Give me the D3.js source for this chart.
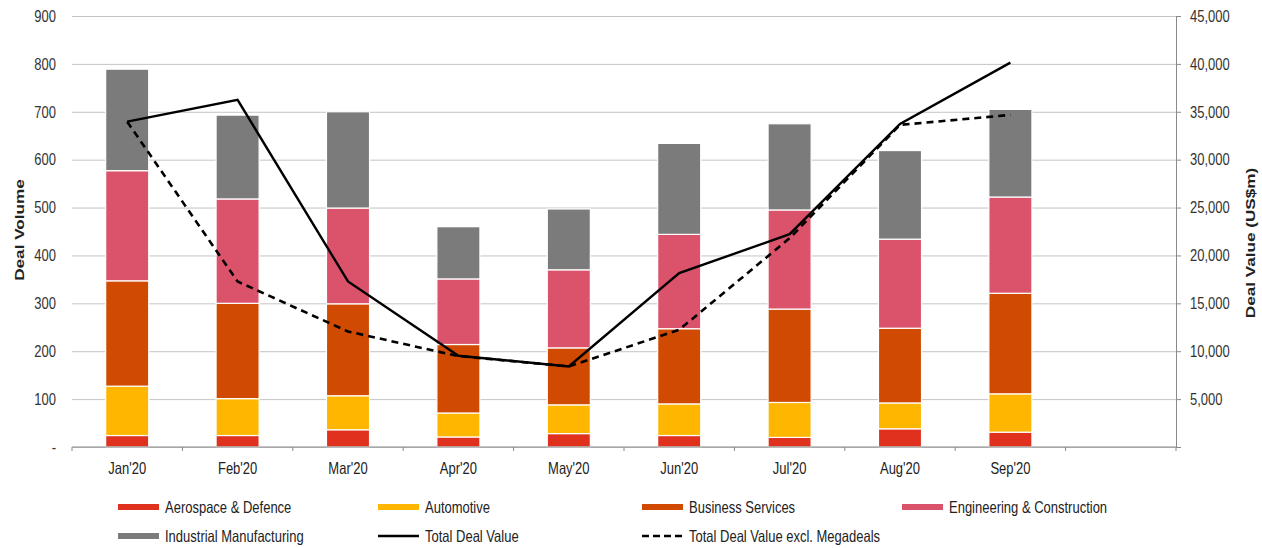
<!DOCTYPE html>
<html>
<head>
<meta charset="utf-8">
<script src="https://cdn.jsdelivr.net/npm/d3@7"></script>
<style>
    body { margin: 0; background: #fff; }
    svg { display: block; font-family: "Liberation Sans", Arial, sans-serif; }
    .gridline line { stroke: #c4c4c4; }
    .gridline path { display: none; }
</style>
</head>
<body>
<div id="chart"></div>
<script>
// values
const months = ["Jan'20", "Feb'20", "Mar'20", "Apr'20", "May'20", "Jun'20", "Jul'20", "Aug'20", "Sep'20"];
const aerospace = [24, 24, 36, 21, 28, 24, 20, 38, 31];
const automotive = [103, 77, 71, 50, 60, 66, 73, 54, 80];
const businessServices = [220, 199, 192, 143, 119, 157, 195, 156, 210];
const engineering = [230, 218, 200, 137, 163, 197, 207, 186, 201];
const industrial = [212, 175, 201, 109, 127, 190, 180, 185, 183];
const totalDealValue = [33970, 36240, 17280, 9530, 8410, 18150, 22220, 33730, 40130];
const exclMegadeals = [33970, 17280, 12060, 9490, 8410, 12240, 21800, 33630, 34670];
const volumeTicks = [0, 100, 200, 300, 400, 500, 600, 700, 800, 900];
const valueTicks = [0, 5000, 10000, 15000, 20000, 25000, 30000, 35000, 40000, 45000];

const seriesNames = ['Aerospace & Defence', 'Automotive', 'Business Services', 'Engineering & Construction', 'Industrial Manufacturing'];
const seriesColors = ['#e0301e', '#ffb600', '#d04a02', '#db536a', '#7b7b7b'];
const seriesValues = [aerospace, automotive, businessServices, engineering, industrial];

const width = 1262;
const height = 548;
const stretch = 'scale(1,1.27)';

const svg = d3.select('#chart')
    .append('svg')
    .attr('width', width)
    .attr('height', height);

const plotLeft = 72, plotRight = 1176, plotTop = 16, plotBottom = 447;

// 10 slots, the last one stays empty
const slots = d3.range(months.length + 1);
const xScale = d3.scaleBand()
    .domain(slots)
    .range([plotLeft, plotRight])
    .paddingInner(0.61)
    .paddingOuter(0.305);
const yScale = d3.scaleLinear()
    .domain([0, 900])
    .range([plotBottom, plotTop]);
const y2Scale = d3.scaleLinear()
    .domain([0, 45000])
    .range([plotBottom, plotTop]);

// gridlines
svg.append('g')
    .classed('gridline', true)
    .attr('transform', `translate(${plotLeft},0)`)
    .call(d3.axisLeft(yScale).tickValues(volumeTicks).tickSize(-(plotRight - plotLeft)).tickFormat(''));

// left axis labels
const yAxis = svg.append('g')
    .attr('transform', `translate(${plotLeft},0)`)
    .call(d3.axisLeft(yScale)
        .tickValues(volumeTicks)
        .tickSize(0)
        .tickPadding(16)
        .tickFormat(d => d === 0 ? '-' : d));
yAxis.select('.domain').remove();
yAxis.selectAll('text')
    .style('font-size', '13px')
    .attr('fill', '#333')
    .attr('transform', stretch);

// stacked bars
const stackData = months.map((m, i) => {
    const row = { i };
    seriesNames.forEach((s, k) => { row[s] = seriesValues[k][i]; });
    return row;
});
const stacked = d3.stack().keys(seriesNames)(stackData);

svg.selectAll('.series')
    .data(stacked)
    .enter()
    .append('g')
    .classed('series', true)
    .attr('fill', (d, k) => seriesColors[k])
    .selectAll('rect')
    .data(d => d)
    .enter()
    .append('rect')
    .attr('x', d => xScale(d.data.i))
    .attr('y', d => yScale(d[1]))
    .attr('width', xScale.bandwidth())
    .attr('height', d => yScale(d[0]) - yScale(d[1]))
    .attr('stroke', '#fff')
    .attr('stroke-width', 1.2);

// x axis baseline, boundary ticks, labels
svg.append('line')
    .attr('x1', plotLeft).attr('x2', plotRight)
    .attr('y1', plotBottom).attr('y2', plotBottom)
    .attr('stroke', '#8a8a8a');

svg.selectAll('.xtick')
    .data(d3.range(slots.length + 1))
    .enter()
    .append('line')
    .classed('xtick', true)
    .attr('x1', d => plotLeft + d * xScale.step())
    .attr('x2', d => plotLeft + d * xScale.step())
    .attr('y1', plotBottom)
    .attr('y2', plotBottom + 4)
    .attr('stroke', '#8a8a8a');

svg.selectAll('.xlabel')
    .data(months)
    .enter()
    .append('text')
    .classed('xlabel', true)
    .attr('transform', (d, i) => `translate(${xScale(i) + xScale.bandwidth() / 2},468) ${stretch}`)
    .attr('dominant-baseline', 'central')
    .style('text-anchor', 'middle')
    .style('font-size', '13px')
    .attr('fill', '#222')
    .text(d => d);

// right axis
const y2Axis = svg.append('g')
    .attr('transform', `translate(${plotRight},0)`)
    .call(d3.axisRight(y2Scale)
        .tickValues(valueTicks)
        .tickSize(5)
        .tickPadding(9)
        .tickFormat(d => d === 0 ? '' : d3.format(',')(d)));
y2Axis.select('.domain').attr('stroke', '#8a8a8a');
y2Axis.selectAll('line').attr('stroke', '#8a8a8a');
y2Axis.selectAll('text')
    .style('font-size', '13px')
    .attr('fill', '#333')
    .attr('transform', stretch);

// lines
const line = d3.line()
    .x((d, i) => xScale(i) + xScale.bandwidth() / 2)
    .y(d => y2Scale(d));

svg.append('path')
    .datum(exclMegadeals)
    .attr('d', line)
    .attr('fill', 'none')
    .attr('stroke', '#000')
    .attr('stroke-width', 2.6)
    .attr('stroke-dasharray', '7,5');

svg.append('path')
    .datum(totalDealValue)
    .attr('d', line)
    .attr('fill', 'none')
    .attr('stroke', '#000')
    .attr('stroke-width', 2.4);

// axis titles
svg.append('text')
    .attr('transform', `translate(19,230) scale(1,1.27) rotate(-90)`)
    .attr('dominant-baseline', 'central')
    .style('text-anchor', 'middle')
    .style('font-size', '13.5px')
    .style('font-weight', 'bold')
    .attr('fill', '#222')
    .text('Deal Volume');

svg.append('text')
    .attr('transform', `translate(1250,243) scale(1,1.27) rotate(-90)`)
    .attr('dominant-baseline', 'central')
    .style('text-anchor', 'middle')
    .style('font-size', '13.5px')
    .style('font-weight', 'bold')
    .attr('fill', '#222')
    .text('Deal Value (US$m)');

// legend
const legendCols = [118, 378, 642, 902];
const legendRows = [507, 536];
const legendItems = seriesNames.map((s, k) => ({ name: s, type: 'rect', color: seriesColors[k] }))
    .concat([
        { name: 'Total Deal Value', type: 'line', dash: null },
        { name: 'Total Deal Value excl. Megadeals', type: 'line', dash: '7,4' }
    ]);

const legend = svg.selectAll('.legend-item')
    .data(legendItems)
    .enter()
    .append('g')
    .classed('legend-item', true)
    .attr('transform', (d, i) => `translate(${legendCols[i % 4]},${legendRows[Math.floor(i / 4)]})`);

legend.filter(d => d.type === 'rect')
    .append('rect')
    .attr('x', 0)
    .attr('y', -3)
    .attr('width', 41)
    .attr('height', 6)
    .attr('fill', d => d.color);

legend.filter(d => d.type === 'line')
    .append('line')
    .attr('x1', 0).attr('x2', 41)
    .attr('y1', 0).attr('y2', 0)
    .attr('stroke', '#000')
    .attr('stroke-width', 2.6)
    .attr('stroke-dasharray', d => d.dash);

legend.append('text')
    .attr('transform', `translate(47,0) ${stretch}`)
    .attr('dominant-baseline', 'central')
    .style('font-size', '13px')
    .attr('fill', '#222')
    .text(d => d.name);
</script>
</body>
</html>
